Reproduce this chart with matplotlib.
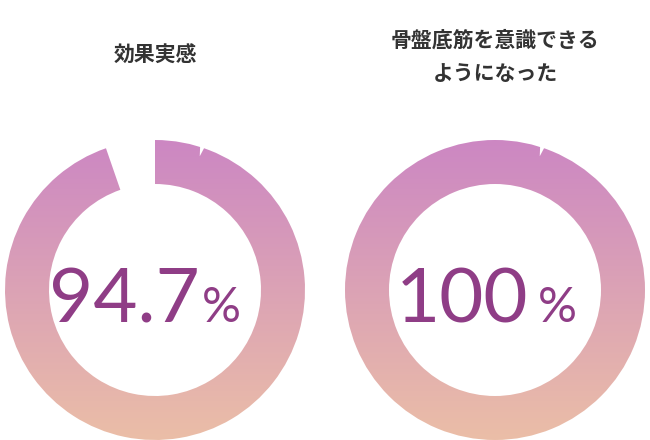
import numpy as np
import matplotlib
matplotlib.use("Agg")
import matplotlib.pyplot as plt
from matplotlib.patches import Wedge, Polygon
from matplotlib.colors import LinearSegmentedColormap

# data
titles = ["効果実感", "骨盤底筋を意識できる\nようになった"]
values = [94.7, 100]
labels = ["94.7", "100"]

plt.rcParams["font.family"] = ["Noto Sans CJK JP", "DejaVu Sans"]

W, H = 650, 440
fig = plt.figure(figsize=(6.5, 4.4), dpi=100)
ax = fig.add_axes([0, 0, 1, 1])
ax.set_xlim(0, W)
ax.set_ylim(0, H)
ax.set_aspect("equal")
ax.axis("off")

cmap = LinearSegmentedColormap.from_list("grad", ["#cc87c3", "#ebbea7"])
grad = np.linspace(0, 1, 256).reshape(-1, 1)

centers_x = [155, 495]
cy = H - 290
r_out, r_in = 150, 106
num_offset = [(45, 47), (33, 43)]  # right edge of number, left edge of %

for i, (cx, val) in enumerate(zip(centers_x, values)):
    sweep = 360 * val / 100
    w = Wedge((cx, cy), r_out, 90 - sweep, 90, width=r_out - r_in,
              facecolor="none", edgecolor="none")
    ax.add_patch(w)
    im = ax.imshow(grad, cmap=cmap, aspect="auto",
                   extent=[cx - r_out, cx + r_out, cy - r_out, cy + r_out],
                   origin="upper", interpolation="bilinear")
    im.set_clip_path(w)

    # small notch on the outer rim
    a = np.deg2rad(90 - 18.5)
    a1 = np.deg2rad(90 - 17.3)
    a2 = np.deg2rad(90 - 19.2)
    pts = [(cx + (r_out + 2) * np.cos(a1), cy + (r_out + 2) * np.sin(a1)),
           (cx + (r_out - 9) * np.cos(a), cy + (r_out - 9) * np.sin(a)),
           (cx + (r_out + 2) * np.cos(a2), cy + (r_out + 2) * np.sin(a2))]
    ax.add_patch(Polygon(pts, closed=True, facecolor="white", edgecolor="none", zorder=3))

    nx, px = num_offset[i]
    ax.text(cx + nx, H - 322, labels[i], ha="right", va="baseline",
            fontsize=55, color="#8f3d86", family=["Lato", "DejaVu Sans"],
            fontweight="normal")
    ax.text(cx + px, H - 322, "%", ha="left", va="baseline",
            fontsize=35, color="#8f3d86", family=["Lato", "DejaVu Sans"],
            fontweight="normal")

ax.text(centers_x[0], H - 55, titles[0], ha="center", va="center",
        fontsize=15, color="#333333", fontweight="bold")
ax.text(centers_x[1], H - 57, titles[1], ha="center", va="center",
        fontsize=15, color="#333333", fontweight="bold", linespacing=1.75)

fig.savefig("out.png", dpi=100)
